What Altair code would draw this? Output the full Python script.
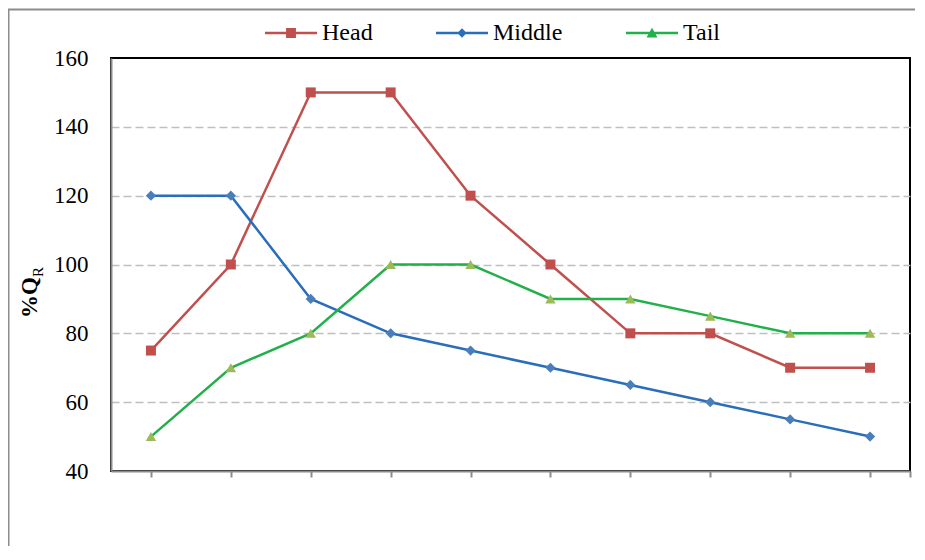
import altair as alt
import pandas as pd

categories = list(range(1, 11))
series_names = ["Head", "Middle", "Tail"]
head = [75, 100, 150, 150, 120, 100, 80, 80, 70, 70]
middle = [120, 120, 90, 80, 75, 70, 65, 60, 55, 50]
tail = [50, 70, 80, 100, 100, 90, 90, 85, 80, 80]
y_ticks = [40, 60, 80, 100, 120, 140, 160]
x_ticks = categories + [10.5]

line_colors = ["#C0504D", "#2A6EBB", "#22B04B"]
marker_colors = ["#C0504D", "#4A7EBB", "#9BBB59"]
marker_shapes = ["square", "diamond", "triangle-up"]

rows = []
for name, vals in zip(series_names, [head, middle, tail]):
    for c, v in zip(categories, vals):
        rows.append({"cat": c, "value": v, "series": name})
df = pd.DataFrame(rows)

FONT = "Times New Roman, Liberation Serif, DejaVu Serif, serif"

x_enc = alt.X("cat:Q", scale=alt.Scale(domain=[0.5, 10.5], nice=False, zero=False),
              axis=alt.Axis(values=x_ticks, labels=False, grid=False, title=None,
                            tickSize=6, tickWidth=2, tickColor="#8c8c8c",
                            domainColor="#8c8c8c", domainWidth=2))
y_enc = alt.Y("value:Q", scale=alt.Scale(domain=[40, 160], nice=False, zero=False),
              axis=alt.Axis(values=y_ticks, title=None, ticks=False, labelPadding=23,
                            labelFont=FONT, labelFontSize=23, labelColor="black",
                            domainColor="#8c8c8c", domainWidth=2,
                            grid=True, gridDash=[8, 4], gridWidth=1.5,
                            gridColor={"condition": {"test": "datum.value == 160 || datum.value == 40",
                                                     "value": "transparent"},
                                       "value": "#bfbfbf"}))

sq = "M-0.19,-0.19L0.19,-0.19L0.19,0.19L-0.19,0.19Z"
di = "M0,-0.18L0.18,0L0,0.18L-0.18,0Z"
tr = "M0,-0.2L0.21,0.17L-0.21,0.17Z"
ln = "M-1,-0.045L1,-0.045L1,0.045L-1,0.045Z"
shape_signal = ("datum.value === 'Head' ? '%s' : datum.value === 'Middle' ? '%s' : '%s'"
                % (ln + sq, ln + di, ln + tr))

legend = alt.Legend(orient="none", legendX=154, legendY=-51, direction="horizontal",
                    title=None, symbolSize=2704, labelFont=FONT, labelFontSize=24,
                    labelColor="black", labelOffset=5, columnPadding=63,
                    symbolType=alt.ExprRef(shape_signal),
                    symbolFillColor=alt.ExprRef("scale('color', datum.value)"),
                    symbolStrokeWidth=0, symbolOpacity=1)

lines = alt.Chart(df).mark_line(strokeWidth=2.5).encode(
    x=x_enc, y=y_enc,
    color=alt.Color("series:N", scale=alt.Scale(domain=series_names, range=line_colors),
                    legend=legend),
    detail="series:N",
)

points = alt.Chart(df).mark_point(filled=True, opacity=1, strokeWidth=0).encode(
    x="cat:Q", y="value:Q",
    fill=alt.Fill("series:N", scale=alt.Scale(domain=series_names, range=marker_colors),
                  legend=None),
    shape=alt.Shape("series:N", scale=alt.Scale(domain=series_names, range=marker_shapes),
                    legend=None),
    size=alt.Size("series:N", scale=alt.Scale(domain=series_names, range=[100, 110, 130]),
                  legend=None),
)

one = pd.DataFrame({"t": ["%Q"], "s": ["R"]})
ylab_main = alt.Chart(one).mark_text(font=FONT, fontSize=23, fontWeight="bold", angle=270,
                                     align="left", baseline="alphabetic", color="black").encode(
    text="t:N", x=alt.value(-74), y=alt.value(260))
ylab_sub = alt.Chart(one).mark_text(font=FONT, fontSize=15, angle=270,
                                    align="left", baseline="alphabetic", color="black").encode(
    text="s:N", x=alt.value(-68), y=alt.value(219))

frame = alt.Chart(one).mark_rect(fill="white", fillOpacity=0, stroke="#8c8c8c",
                                 strokeWidth=2).encode(
    x=alt.value(-102.5), x2=alt.value(900), y=alt.value(-48.5), y2=alt.value(700))

chart = alt.layer(frame, lines, points, ylab_main, ylab_sub).resolve_scale(
    fill="independent", shape="independent", size="independent"
).properties(
    width=799, height=413,
    autosize=alt.AutoSizeParams(type="none"),
    padding={"left": 103, "top": 50, "right": 5, "bottom": 75},
).configure_view(stroke="black", strokeWidth=2)

chart.save("out.html", embed_options={"renderer": "svg", "actions": False})
